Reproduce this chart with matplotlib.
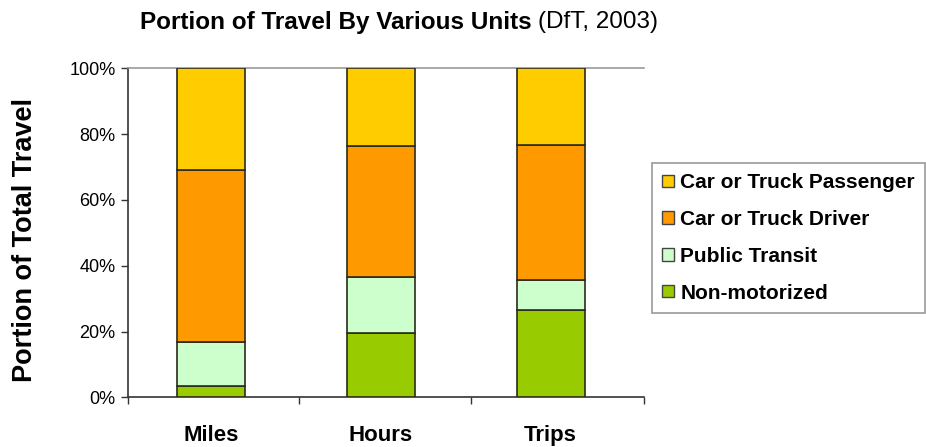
import matplotlib
matplotlib.use("Agg")
import matplotlib.pyplot as plt
from matplotlib.patches import Patch

plt.rcParams['font.family'] = ['Liberation Sans', 'DejaVu Sans']

# Share of travel (%) by mode, measured three ways
units = ["Miles", "Hours", "Trips"]
non_motorized = [3.5, 19.6, 26.5]
public_transit = [13.2, 17.1, 9.2]
car_driver = [52.3, 39.7, 41.1]
car_passenger = [31.0, 23.6, 23.2]

series = [
    ("Non-motorized", non_motorized, "#99CC00"),
    ("Public Transit", public_transit, "#CCFFCC"),
    ("Car or Truck Driver", car_driver, "#FF9900"),
    ("Car or Truck Passenger", car_passenger, "#FFCC00"),
]

fig = plt.figure(figsize=(9.26, 4.47), dpi=100)
ax = fig.add_axes([128 / 926, 1 - 397.3 / 447, 516 / 926, 329 / 447])

x = list(range(len(units)))
bottom = [0.0] * len(units)
for name, vals, col in series:
    ax.bar(x, vals, width=0.4, bottom=bottom, color=col,
           edgecolor="#2b2b1a", linewidth=1.2, zorder=3)
    bottom = [b + v for b, v in zip(bottom, vals)]

ax.set_ylim(0, 100)
ax.set_xlim(-0.49, 2.55)
ax.set_yticks([0, 20, 40, 60, 80, 100])
ax.set_yticklabels([f"{v}%" for v in range(0, 101, 20)], fontsize=13)

# Category separators on the x axis, labels centred under each bar
ax.set_xticks([-0.49, 0.52, 1.53, 2.55])
ax.set_xticklabels([])
ax.set_xticks(x, minor=True)
ax.set_xticklabels(units, minor=True, fontsize=16, fontweight="bold")
ax.tick_params(axis="x", which="major", direction="out", length=5,
               color="#333333", width=1)
ax.tick_params(axis="x", which="minor", length=0, pad=20)
ax.tick_params(axis="y", direction="out", length=5, color="#333333",
               width=1, pad=4)

for side in ("left", "bottom"):
    ax.spines[side].set_color("#333333")
    ax.spines[side].set_linewidth(1.2)
ax.spines["right"].set_visible(False)
ax.spines["top"].set_color("#9a9a9a")
ax.spines["top"].set_linewidth(1.2)

fig.text(25 / 926, 1 - 240 / 447, "Portion of Total Travel", rotation=90,
         ha="center", va="center", fontsize=19.5, fontweight="bold")

# Title: bold main part followed by regular source note
t1 = fig.text(140 / 926, 1 - 22 / 447, "Portion of Travel By Various Units",
              ha="left", va="center", fontsize=17.5, fontweight="bold")
fig.canvas.draw()
bb = t1.get_window_extent(renderer=fig.canvas.get_renderer())
fig.text((bb.x1 + 6) / 926, 1 - 22 / 447, "(DfT, 2003)",
         ha="left", va="center", fontsize=17.5)

handles = [Patch(facecolor=col, edgecolor="#444444", linewidth=1, label=name)
           for name, _, col in reversed(series)]
leg = fig.legend(handles=handles, loc="upper left",
                 bbox_to_anchor=(652 / 926, 1 - 163 / 447),
                 prop={"weight": "bold", "size": 15},
                 frameon=True, fancybox=False, edgecolor="#808080",
                 handlelength=0.55, handleheight=0.55, handletextpad=0.3,
                 labelspacing=0.85, borderpad=0.5, borderaxespad=0)
leg.get_frame().set_linewidth(1.2)

fig.savefig("out.png", dpi=100)
